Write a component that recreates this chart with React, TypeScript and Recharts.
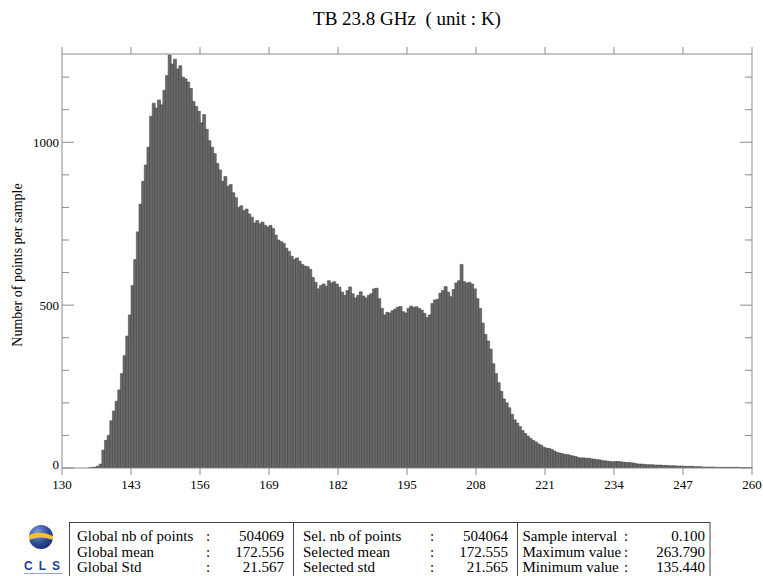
import React from "react"
import {Bar, BarChart, XAxis, YAxis} from "recharts"

// histogram of TB 23.8 GHz, bins of 0.5 K, one array per 13 K axis interval
const binStart = 130
const binWidth = 0.5

const counts130to143 = [0, 0, 0, 0, 0, 0, 0, 0, 0, 0, 1, 2, 3, 6, 12, 55, 85, 100, 145, 175, 205, 240, 290, 345, 405, 470]
const counts143to156 = [560, 640, 725, 810, 880, 930, 985, 1080, 1120, 1105, 1130, 1115, 1160, 1205, 1268, 1240, 1255, 1225, 1235, 1200, 1195, 1185, 1165, 1125, 1110, 1095]
const counts156to169 = [1060, 1085, 1040, 1005, 985, 965, 935, 915, 880, 895, 865, 870, 845, 830, 800, 805, 790, 795, 780, 770, 752, 760, 750, 755, 745, 740]
const counts169to182 = [745, 735, 715, 700, 695, 690, 675, 665, 650, 640, 645, 635, 625, 620, 618, 610, 585, 570, 550, 560, 565, 558, 575, 568, 572, 565]
const counts182to195 = [555, 540, 530, 545, 556, 535, 522, 530, 541, 528, 522, 530, 535, 550, 552, 520, 490, 470, 478, 476, 483, 488, 494, 496, 480, 476]
const counts195to208 = [490, 497, 493, 495, 490, 485, 475, 462, 470, 505, 516, 518, 537, 545, 557, 540, 526, 548, 568, 575, 625, 572, 568, 570, 565, 550]
const counts208to221 = [520, 490, 445, 410, 390, 365, 320, 290, 262, 235, 212, 200, 185, 165, 148, 138, 127, 115, 106, 98, 91, 85, 80, 74, 70, 64]
const counts221to234 = [61, 60, 57, 52, 48, 46, 44, 42, 41, 39, 37, 35, 32, 31, 31, 30, 30, 28, 27, 26, 25, 23, 22, 21, 20, 19]
const counts234to247 = [20, 20, 19, 18, 17, 17, 16, 15, 13, 12, 12, 11, 10, 10, 10, 9, 9, 9, 8, 8, 7, 7, 7, 6, 6, 6]
const counts247to260 = [5, 5, 5, 5, 4, 4, 4, 3, 3, 3, 3, 3, 2, 2, 2, 2, 2, 2, 2, 2, 2, 1, 1, 1, 1, 1]

const xDomain = [130, 260]
const xTicks = [130, 143, 156, 169, 182, 195, 208, 221, 234, 247, 260]
const yTicks = [0, 100, 200, 300, 400, 500, 600, 700, 800, 900, 1000, 1100, 1200]
const yMax = 1271

const statsGlobal = [["Global nb of points", "504069"], ["Global mean", "172.556"], ["Global Std", "21.567"]]
const statsSelected = [["Sel. nb of points", "504064"], ["Selected mean", "172.555"], ["Selected std", "21.565"]]
const statsSample = [["Sample interval", "0.100"], ["Maximum value", "263.790"], ["Minimum value", "135.440"]]

const counts = [
    ...counts130to143, ...counts143to156, ...counts156to169, ...counts169to182, ...counts182to195,
    ...counts195to208, ...counts208to221, ...counts221to234, ...counts234to247, ...counts247to260,
]
const data = counts.map((n, i) => ({
    bin: (binStart + i * binWidth).toFixed(1),
    x: binStart + i * binWidth,
    n,
}))

const serif = "'Liberation Serif', 'DejaVu Serif', serif"
const frame = "#8c8c8c"
const plotTop = 54

function LeftTick(props: any) {
    const {x, y, payload} = props
    const v = payload.value
    const major = v % 500 === 0
    const ax = x + 3
    return (
        <g>
            <line x1={ax} x2={ax + (major ? 12 : 7)} y1={y} y2={y} stroke={frame}/>
            {major && (
                <text x={x} y={v === 0 ? y - 4 : y} dy="0.355em" textAnchor="end" fontSize={13} fontFamily={serif} fill="#000">
                    {v}
                </text>
            )}
        </g>
    )
}

function RightTick(props: any) {
    const {x, y, payload} = props
    const major = payload.value % 500 === 0
    return <line x1={x} x2={x - (major ? 12 : 7)} y1={y} y2={y} stroke={frame}/>
}

// bottom tick with label, plus the matching tick above the top frame
function BottomTick(props: any) {
    const {x, y, payload} = props
    return (
        <g>
            <line x1={x} x2={x} y1={y} y2={y + 7} stroke={frame}/>
            <line x1={x} x2={x} y1={plotTop - 7} y2={plotTop} stroke={frame}/>
            <text x={x} y={y + 21} textAnchor="middle" fontSize={13} fontFamily={serif} fill="#000">
                {payload.value}
            </text>
        </g>
    )
}

function StatsColumn({rows, left, colon, right}: {rows: string[][], left: number, colon: number, right: number}) {
    return (
        <g fontFamily={serif} fontSize={15} fill="#000">
            {rows.map(([label, value], i) => (
                <g key={label}>
                    <text x={left} y={541 + i * 15.5}>{label}</text>
                    <text x={colon} y={541 + i * 15.5}>:</text>
                    <text x={right} y={541 + i * 15.5} textAnchor="end">{value}</text>
                </g>
            ))}
        </g>
    )
}

export default function App() {
    return (
        <div style={{position: "absolute", left: 0, top: 0, width: 763, height: 576, background: "#fff", overflow: "hidden"}}>
            <BarChart
                width={763}
                height={576}
                data={data}
                margin={{top: plotTop - 1, right: 10, bottom: 107, left: 61}}
                barCategoryGap={0}
                barGap={0}
            >
                <XAxis xAxisId="cat" dataKey="bin" type="category" hide/>
                <XAxis
                    xAxisId="bottom"
                    dataKey="x"
                    type="number"
                    domain={xDomain}
                    allowDataOverflow
                    ticks={xTicks}
                    interval={0}
                    height={1}
                    tickSize={0}
                    tickMargin={0}
                    tickLine={false}
                    stroke={frame}
                    tick={(p: any) => <BottomTick {...p}/>}
                />
                <XAxis
                    xAxisId="top"
                    orientation="top"
                    dataKey="x"
                    type="number"
                    domain={xDomain}
                    allowDataOverflow
                    ticks={xTicks}
                    interval={0}
                    height={1}
                    tickLine={false}
                    tick={false}
                    stroke={frame}
                />
                <YAxis
                    yAxisId="left"
                    type="number"
                    domain={[0, yMax]}
                    allowDataOverflow
                    ticks={yTicks}
                    interval={0}
                    width={1}
                    tickSize={0}
                    tickMargin={3}
                    tickLine={false}
                    stroke={frame}
                    tick={(p: any) => <LeftTick {...p}/>}
                />
                <YAxis
                    yAxisId="right"
                    orientation="right"
                    type="number"
                    domain={[0, yMax]}
                    allowDataOverflow
                    ticks={yTicks}
                    interval={0}
                    width={1}
                    tickSize={0}
                    tickMargin={0}
                    tickLine={false}
                    stroke={frame}
                    tick={(p: any) => <RightTick {...p}/>}
                />
                <Bar
                    xAxisId="cat"
                    yAxisId="left"
                    dataKey="n"
                    fill="#6a6a6a"
                    stroke="#3c3c3c"
                    strokeWidth={0.5}
                    isAnimationActive={false}
                />
            </BarChart>

            <svg width={763} height={576} style={{position: "absolute", left: 0, top: 0, pointerEvents: "none"}}>
                <defs>
                    <radialGradient id="globe" cx="0.35" cy="0.3" r="0.8">
                        <stop offset="0" stopColor="#7d9bd6"/>
                        <stop offset="0.6" stopColor="#2b4a9a"/>
                        <stop offset="1" stopColor="#16296b"/>
                    </radialGradient>
                </defs>
                <text x={407} y={25} textAnchor="middle" fontFamily={serif} fontSize={19} fill="#000" style={{whiteSpace: "pre"}}>
                    {"TB 23.8 GHz  ( unit : K)"}
                </text>
                <text
                    x={21.5}
                    y={265}
                    transform="rotate(-90 21.5 265)"
                    textAnchor="middle"
                    fontFamily={serif}
                    fontSize={14}
                    fill="#000"
                >
                    Number of points per sample
                </text>

                <circle cx={41} cy={537} r={12} fill="url(#globe)"/>
                <path d="M29 535 Q40 530 53 536 L53 540 Q41 535 29 540 Z" fill="#f2c230"/>
                <text x={24} y={570} fontFamily="'Liberation Sans', Arial, sans-serif" fontSize={12} fontWeight="bold" fill="#24408f" letterSpacing={6}>
                    CLS
                </text>
                <line x1={24} x2={63} y1={573.5} y2={573.5} stroke="#9aa6c8" strokeWidth={1}/>

                <rect x={69.5} y={522.5} width={640.5} height={70} fill="none" stroke="#444"/>
                <line x1={293.5} x2={293.5} y1={522.5} y2={576} stroke="#444"/>
                <line x1={517.5} x2={517.5} y1={522.5} y2={576} stroke="#444"/>
                <StatsColumn rows={statsGlobal} left={77} colon={206} right={284}/>
                <StatsColumn rows={statsSelected} left={303} colon={430} right={508}/>
                <StatsColumn rows={statsSample} left={522.5} colon={624} right={705}/>
            </svg>
        </div>
    )
}
